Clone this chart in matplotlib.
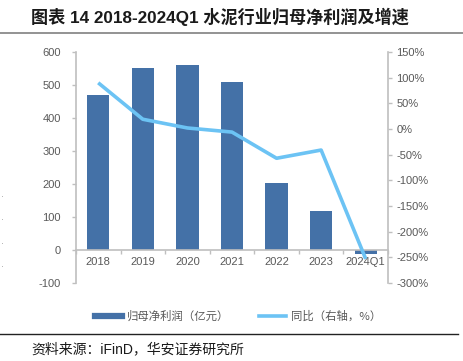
import matplotlib.pyplot as plt
from matplotlib.lines import Line2D
from matplotlib.ticker import FixedLocator, FuncFormatter

plt.rcParams['font.family'] = ['Liberation Sans', 'Noto Sans CJK SC', 'DejaVu Sans']
plt.rcParams['axes.unicode_minus'] = False

# Data
years = ["2018", "2019", "2020", "2021", "2022", "2023", "2024Q1"]
profit = [470, 551, 560, 510, 204, 117, -11]     # 亿元
yoy = [90, 19, 2, -6, -57, -41, -253]            # %

bar_color = "#4471A7"
line_color = "#6CC3F4"
grey = "#595959"
spine_grey = "#BFBFBF"

fig = plt.figure(figsize=(4.63, 3.61), dpi=100)
ax = fig.add_axes([0.164, 0.216, 0.674, 0.640])
ax2 = ax.twinx()

x = list(range(len(years)))
ax.bar(x, profit, width=0.5, color=bar_color, zorder=2)
ax2.plot(x, yoy, color=line_color, lw=2.6, solid_capstyle="butt", zorder=3)

ax.set_xlim(-0.5, 6.5)
ax.set_ylim(-100, 600)
ax.set_yticks(range(-100, 601, 100))
ax2.set_ylim(-300, 150)
ax2.set_yticks(range(-300, 151, 50))
ax2.yaxis.set_major_formatter(FuncFormatter(lambda v, p: f"{int(v)}%"))

ax.set_zorder(ax2.get_zorder() - 1)
ax.patch.set_visible(False)
ax2.patch.set_visible(False)

# x axis sits on zero
ax.spines["bottom"].set_position(("data", 0))
ax.spines["bottom"].set_color(spine_grey)
ax.spines["bottom"].set_linewidth(1.2)
ax.spines["top"].set_visible(False)
ax.spines["right"].set_visible(False)
ax.spines["left"].set_color(spine_grey)
ax.spines["left"].set_linewidth(1.2)
for s in ["top", "bottom", "left"]:
    ax2.spines[s].set_visible(False)
ax2.spines["right"].set_color(spine_grey)
ax2.spines["right"].set_linewidth(1.2)

ax.set_xticks(x)
ax.set_xticklabels(years)
ax.xaxis.set_minor_locator(FixedLocator([i + 0.5 for i in range(-1, 7)]))
ax.tick_params(axis="x", which="major", length=0, pad=5, labelsize=8, labelcolor=grey)
ax.tick_params(axis="x", which="minor", length=3, color=spine_grey, width=1)
ax.tick_params(axis="y", length=3, color=spine_grey, width=1, labelsize=8, labelcolor=grey, pad=8)
ax2.tick_params(axis="y", length=3, color=spine_grey, width=1, labelsize=8, labelcolor=grey, pad=3)

# legend
handles = [Line2D([0], [0], color=bar_color, lw=4.5),
           Line2D([0], [0], color=line_color, lw=2.6)]
fig.legend(handles, ["归母净利润（亿元）", "同比（右轴，%）"], loc="center",
           bbox_to_anchor=(0.515, 0.125), ncol=2, frameon=False,
           labelcolor=grey, handlelength=2.3, handletextpad=0.5, columnspacing=2.6,
           prop={"family": ["Noto Sans CJK SC"], "size": 8.2})

# title and source
fig.text(0.068, 0.952, "图表 14 2018-2024Q1 水泥行业归母净利润及增速", fontsize=12.3,
         fontweight="bold", va="center", ha="left", color="#1a1a1a",
         family=["Liberation Sans", "Noto Sans CJK SC", "DejaVu Sans"])
fig.add_artist(Line2D([0, 1], [0.908, 0.908], color="#808080", lw=1.2))
fig.add_artist(Line2D([0, 0.99], [0.075, 0.075], color="#222222", lw=1.0))
fig.text(0.068, 0.032, "资料来源：iFinD，华安证券研究所", fontsize=10, va="center",
         ha="left", color="#1a1a1a", family=["Liberation Sans", "Noto Sans CJK SC", "DejaVu Sans"])

# faint dots at the left edge
for yy in [0.452, 0.388, 0.322, 0.260]:
    fig.text(0.002, yy, "·", fontsize=6, color="#909090", va="center")

fig.savefig("out.png", dpi=100)
